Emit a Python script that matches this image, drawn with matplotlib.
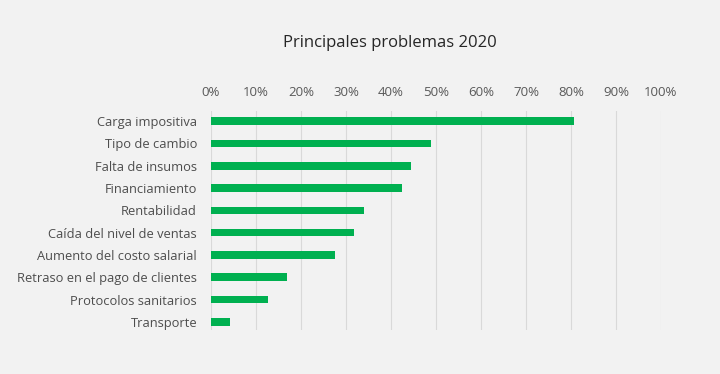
import matplotlib.pyplot as plt
import numpy as np

# Datos
categorias = ["Carga impositiva", "Tipo de cambio", "Falta de insumos", "Financiamiento",
              "Rentabilidad", "Caída del nivel de ventas", "Aumento del costo salarial",
              "Retraso en el pago de clientes", "Protocolos sanitarios", "Transporte"]
valores = [0.807, 0.488, 0.445, 0.424, 0.339, 0.318, 0.276, 0.170, 0.127, 0.042]
ticks = np.arange(0, 1.01, 0.1)
tick_labels = [f"{int(round(t * 100))}%" for t in ticks]

plt.rcParams["font.family"] = ["Open Sans", "DejaVu Sans"]

fig = plt.figure(figsize=(7.2, 3.74), dpi=100, facecolor="#F2F2F2")
ax = fig.add_axes([0.293, 0.118, 0.625, 0.585])
ax.set_facecolor("#F2F2F2")

y = np.arange(len(categorias))
ax.barh(y, valores, height=0.34, color="#00B050", zorder=3)

ax.set_xlim(0, 1)
ax.set_ylim(9.36, -0.45)
ax.set_xticks(ticks)
ax.set_xticklabels(tick_labels)
ax.xaxis.tick_top()
ax.tick_params(axis="x", length=0, pad=9, labelsize=9.5, labelcolor="#595959")
ax.set_yticks(y)
ax.set_yticklabels(categorias)
ax.tick_params(axis="y", length=0, pad=10, labelsize=9.3, labelcolor="#4D4D4D")
ax.grid(axis="x", color="#D9D9D9", linewidth=0.8, zorder=0)

for spine in ax.spines.values():
    spine.set_visible(False)

fig.text(0.542, 0.885, "Principales problemas 2020", ha="center", va="center",
         fontsize=12, color="#262626")

fig.savefig("out.png", dpi=100, facecolor=fig.get_facecolor())
